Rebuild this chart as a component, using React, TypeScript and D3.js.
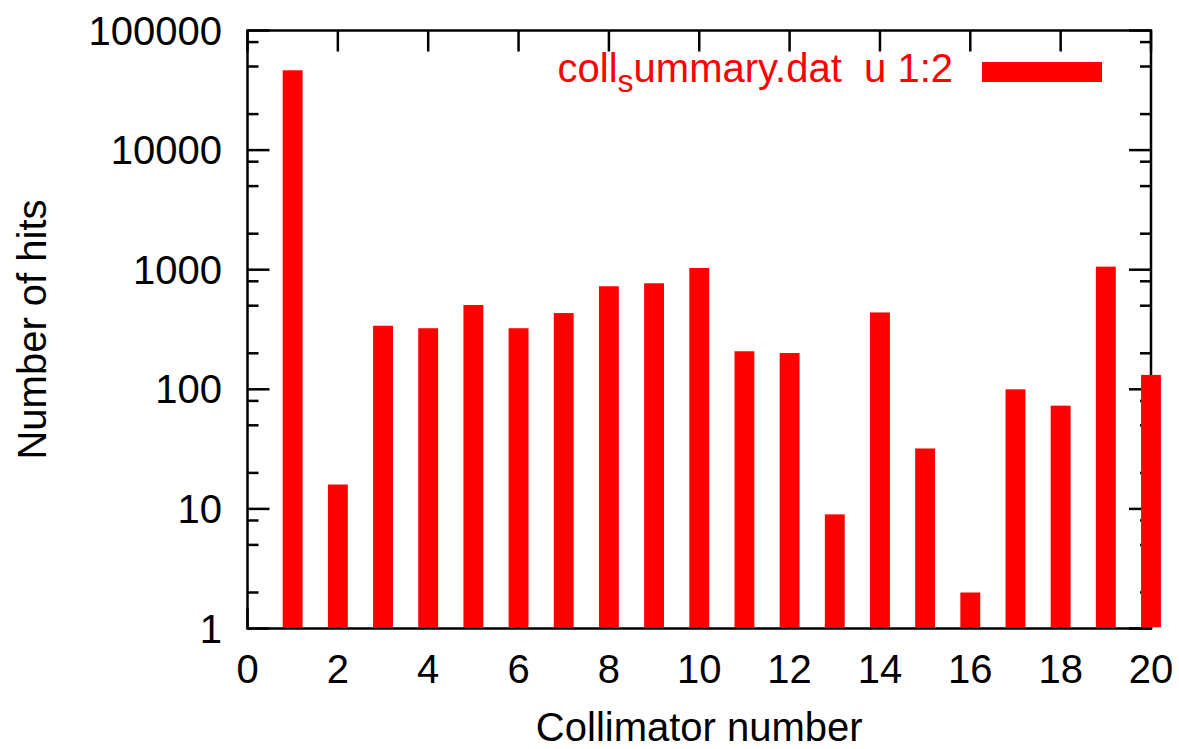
import React from "react";
import * as d3 from "d3";

// Hits recorded per collimator (log scale)
const collimators: number[] = [1, 2, 3, 4, 5, 6, 7, 8, 9, 10, 11, 12, 13, 14, 15, 16, 17, 18, 19, 20];
const hits: number[] = [46500, 16, 340, 324, 507, 324, 434, 727, 770, 1033, 208, 201, 9, 439, 32, 2, 100, 73, 1060, 132];

const xTicks: number[] = [0, 2, 4, 6, 8, 10, 12, 14, 16, 18, 20];
const yTicks: number[] = [1, 10, 100, 1000, 10000, 100000];
const yMinorFactors: number[] = [2, 5, 8];

const W = 1179;
const H = 749;
const RED = "#ff0000";
const FONT = "'Liberation Sans', Arial, Helvetica, sans-serif";
const FS = 40;

export default function App() {
  const x = d3.scaleLinear().domain([0, 20]).range([247.5, 1151]);
  const y = d3.scaleLog().domain([1, 100000]).range([628.5, 30.5]);
  const [x0, x1] = x.range();
  const [yb, yt] = y.range();
  const barW = x(0.44) - x(0);

  const minor: number[] = [];
  yTicks.slice(0, -1).forEach((d) => yMinorFactors.forEach((f) => minor.push(d * f)));

  const label = (tx: number, ty: number, text: React.ReactNode, anchor: string, key?: string | number, rotate = 0) => (
    <text
      key={key}
      transform={`translate(${tx},${ty}) rotate(${rotate})`}
      textAnchor={anchor}
      fontFamily={FONT}
      fontSize={FS}
      fill="#000"
    >
      {text}
    </text>
  );

  return (
    <svg width={W} height={H} style={{ position: "absolute", left: 0, top: 0, background: "#fff" }}>
      {/* frame */}
      <rect x={x0} y={yt} width={x1 - x0} height={yb - yt} fill="none" stroke="#000" strokeWidth={2.5} />

      {/* y ticks on both sides */}
      {yTicks.map((d) => (
        <g key={"ym" + d}>
          <line x1={x0} x2={x0 + 22} y1={y(d)} y2={y(d)} stroke="#000" strokeWidth={2.5} />
          <line x1={x1} x2={x1 - 22} y1={y(d)} y2={y(d)} stroke="#000" strokeWidth={2.5} />
        </g>
      ))}
      {minor.map((d) => (
        <g key={"yn" + d}>
          <line x1={x0} x2={x0 + 11} y1={y(d)} y2={y(d)} stroke="#000" strokeWidth={2.5} />
          <line x1={x1} x2={x1 - 11} y1={y(d)} y2={y(d)} stroke="#000" strokeWidth={2.5} />
        </g>
      ))}

      {/* x ticks top and bottom */}
      {xTicks.map((d) => (
        <g key={"xt" + d}>
          <line x1={x(d)} x2={x(d)} y1={yt} y2={yt + 21} stroke="#000" strokeWidth={2.5} />
          <line x1={x(d)} x2={x(d)} y1={yb} y2={yb - 21} stroke="#000" strokeWidth={2.5} />
        </g>
      ))}

      {/* tick labels */}
      {yTicks.map((d) => label(222, y(d) + 14, String(d), "end", "yl" + d))}
      {xTicks.map((d) => label(x(d), 683, String(d), "middle", "xl" + d))}

      {/* axis titles */}
      {label(x(10), 741, "Collimator number", "middle", "xt")}
      {label(46, (yb + yt) / 2, "Number of hits", "middle", "yt", -90)}

      {/* bars */}
      {collimators.map((c, i) => (
        <rect
          key={"b" + c}
          x={x(c) - barW / 2}
          y={y(hits[i])}
          width={barW}
          height={y(1) - 1.2 - y(hits[i])}
          fill={RED}
        />
      ))}

      {/* legend */}
      <text
        x={953}
        y={82}
        textAnchor="end"
        fontFamily={FONT}
        fontSize={FS}
        fill={RED}
        style={{ whiteSpace: "pre" }}
      >
        coll
        <tspan fontSize={FS * 0.8} dy={10}>s</tspan>
        <tspan dy={-10}>{"ummary.dat  u 1:2"}</tspan>
      </text>
      <rect x={982} y={62} width={120} height={20} fill={RED} />
    </svg>
  );
}
